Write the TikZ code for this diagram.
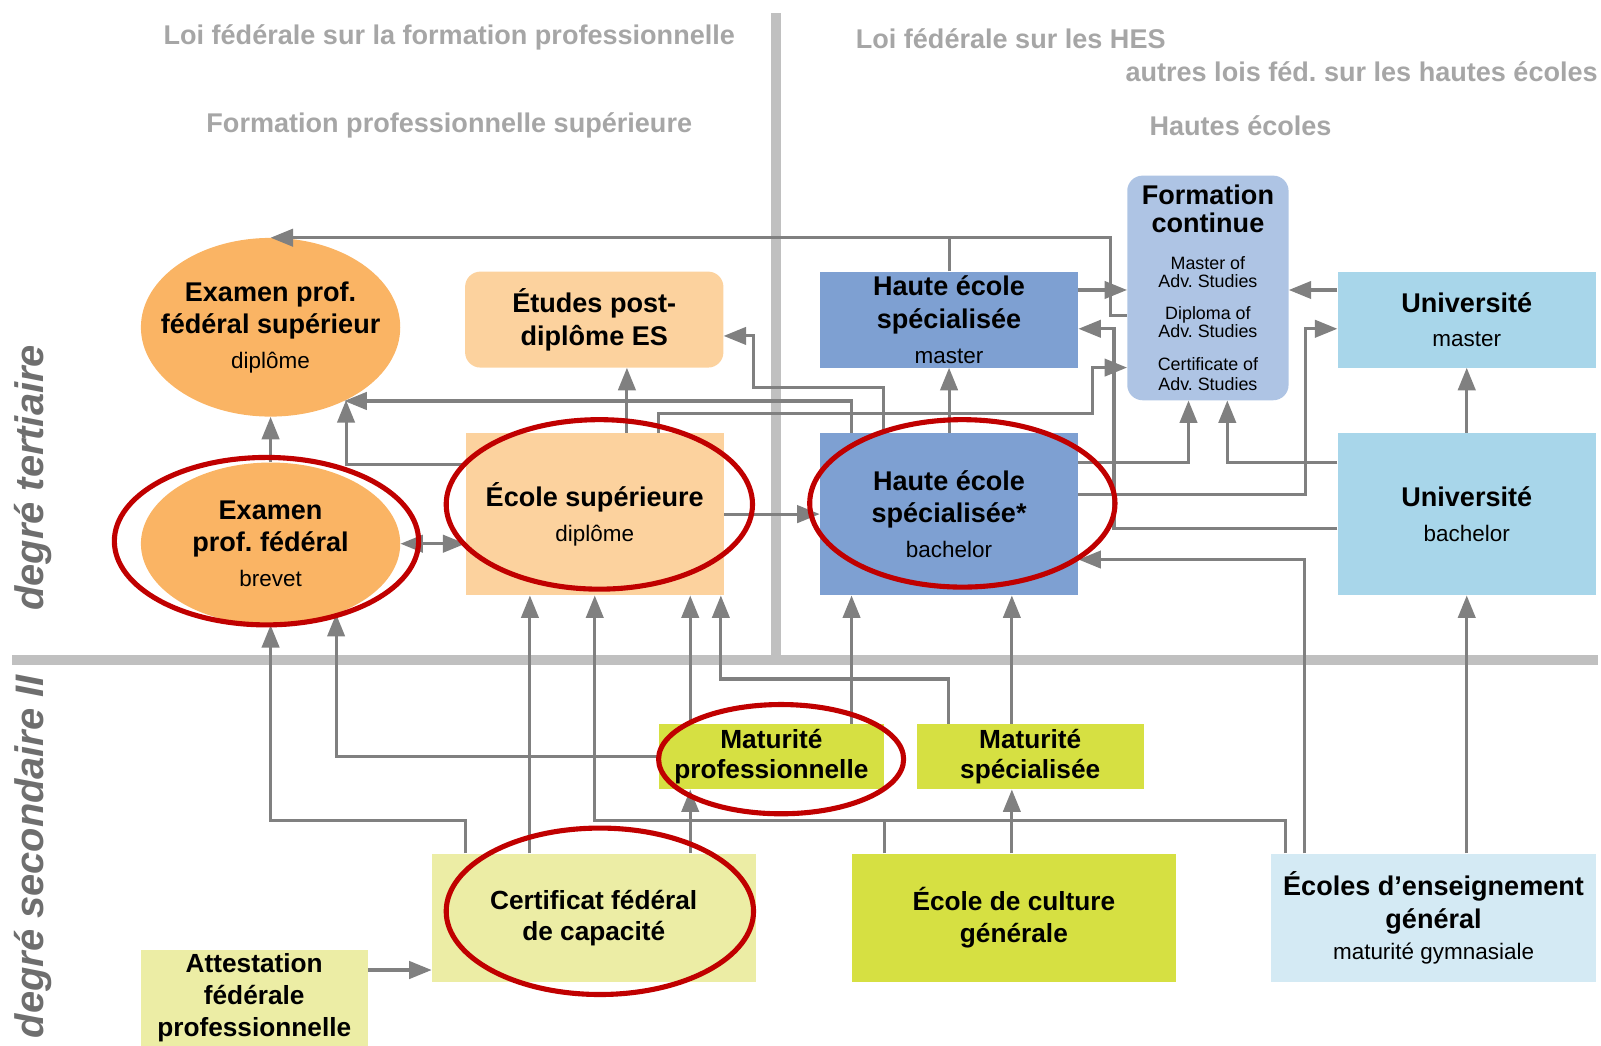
\documentclass[tikz,border=0pt]{standalone}
\usepackage{fontspec}
\setmainfont{Liberation Sans}
\usetikzlibrary{arrows.meta,shapes.geometric}
\frenchspacing

\definecolor{orangeA}{RGB}{250,180,100}
\definecolor{orangeB}{RGB}{252,210,158}
\definecolor{blueA}{RGB}{126,160,210}
\definecolor{blueB}{RGB}{174,196,228}
\definecolor{blueC}{RGB}{168,214,234}
\definecolor{blueD}{RGB}{212,234,244}
\definecolor{greenA}{RGB}{214,224,66}
\definecolor{yellowA}{RGB}{236,237,165}
\definecolor{ringred}{RGB}{192,0,0}
\definecolor{linegray}{RGB}{128,128,128}
\definecolor{bargray}{RGB}{192,192,192}
\definecolor{headgray}{RGB}{166,166,166}
\definecolor{sidegray}{RGB}{110,110,110}

\newcommand{\txttitle}{\fontsize{26.5}{32}\selectfont\bfseries}
\newcommand{\txtsub}{\fontsize{22}{26}\selectfont\mdseries}
\newcommand{\txtsec}{\fontsize{25.7}{31}\selectfont\bfseries}
\newcommand{\txtadv}{\fontsize{17.5}{19}\selectfont\mdseries}

\begin{document}
\begin{tikzpicture}[x=1pt, y=-1pt,
  box/.style={inner sep=0pt, align=center, font=\txttitle, minimum width=253, minimum height=94},
  tall/.style={box, minimum height=159},
  secbox/.style={inner sep=0pt, align=center, font=\txtsec},
  oval/.style={ellipse, inner sep=0pt, minimum width=254, fill=orangeA},
  ovaltext/.style={inner sep=0pt, align=center, font=\txttitle},
  head/.style={inner sep=0pt, text=headgray, font=\txttitle},
  side/.style={inner sep=0pt, text=sidegray, rotate=90, font=\fontsize{39}{47}\selectfont\bfseries\itshape},
  bar/.style={draw=bargray, line width=10pt},
  conn/.style={draw=linegray, line width=3pt},
  arr/.style={conn, -{Triangle[length=22pt,width=17pt]}},
  arrboth/.style={conn, {Triangle[length=22pt,width=17pt]}-{Triangle[length=22pt,width=17pt]}},
  ring/.style={draw=ringred, line width=5pt}]
  \useasboundingbox (0,0) rectangle (1568,1023.5);
  \clip (0,0) rectangle (1568,1023.5);

  \draw[bar] (760,13) -- (760,641);
  \draw[bar] (12,646) -- (1565,646);

  \node[head] (lfp) at (440,37) {Loi fédérale sur la formation professionnelle};
  \node[head] (fps) at (440,123) {Formation professionnelle supérieure};
  \node[head, anchor=west] (lhes) at (838,38) {Loi fédérale sur les HES};
  \node[head, anchor=east] (alhe) at (1565,70) {autres lois féd. sur les hautes écoles};
  \node[head] (hec) at (1215,123) {Hautes écoles};
  \node[side] (tert) at (32,468) {degré tertiaire};
  \node[side] (secII) at (32,839) {degré secondaire II};

  % degré tertiaire
  \node[oval, minimum height=175] (exsup) at (265,320.5) {};
  \node[ovaltext] (exsuptxt) at (exsup) {Examen prof.\\ fédéral supérieur\\[2pt] \txtsub diplôme};
  \node[box, fill=orangeB, rounded corners=15] (etpd) at (582,313) {Études post-\\ diplôme ES};
  \node[oval, minimum height=159] (exbr) at (265,532.5) {};
  \node[ovaltext] (exbrtxt) at (exbr) {Examen\\ prof. fédéral\\[2pt] \txtsub brevet};
  \node[tall, fill=orangeB] (esup) at (582.5,503.5) {École supérieure\\[2pt] \txtsub diplôme};
  \node[box, fill=blueA] (hesm) at (929.5,313) {Haute école\\ spécialisée\\[2pt] \txtsub master};
  \node[tall, fill=blueA] (hesb) at (929.5,503.5) {Haute école\\ spécialisée*\\[2pt] \txtsub bachelor};
  \node[box, fill=blueB, rounded corners=15, minimum width=158, minimum height=220] (fc) at (1183,282)
    {Formation\\[-5pt] continue\\[4pt] \txtadv Master of\\[-14pt] \txtadv Adv. Studies\\[-1pt]
     \txtadv Diploma of\\[-14pt] \txtadv Adv. Studies\\ \txtadv Certificate of\\[-12pt] \txtadv Adv. Studies};
  \node[box, fill=blueC] (unim) at (1436.5,313) {Université\\[2pt] \txtsub master};
  \node[tall, fill=blueC] (unib) at (1436.5,503.5) {Université\\[2pt] \txtsub bachelor};

  % degré secondaire II
  \node[secbox, fill=greenA, minimum width=221, minimum height=64] (mp) at (755.5,741) {Maturité\\[-1pt] professionnelle};
  \node[secbox, fill=greenA, minimum width=222, minimum height=64] (ms) at (1009,741) {Maturité\\[-1pt] spécialisée};
  \node[secbox, fill=yellowA, minimum width=317, minimum height=126] (cfc) at (581.5,899) {Certificat fédéral\\ de capacité};
  \node[secbox, fill=greenA, minimum width=318, minimum height=126] (ecg) at (993,899) {École de culture\\ générale};
  \node[box, fill=blueD, minimum width=318, minimum height=126] (eeg) at (1404,899) {Écoles d’enseignement\\ général\\[-1pt] \txtsub maturité gymnasiale};
  \node[fill=yellowA, inner sep=0pt, minimum width=222, minimum height=130] (att) at (249,995) {};
  \node[secbox] (atttxt) at (249,977) {Attestation\\ fédérale\\ professionnelle};

  \draw[arr] (exbr) -- (exsup);
  \draw[arrboth] (exbr.east) -- (exbr.east -| esup.west);
  \draw[arr] (esup.west |- 0,455) -| (exsup.-44);
  \draw[arr] (esup.north -| 614,0) -- (etpd.south -| 614,0);
  \draw[arr] (esup.north -| 645,0) |- (1070,405) |- (fc.west |- 0,360);
  \draw[arr] (esup) -- (hesb);
  \draw[arr] (hesb.north -| 834,0) |- (exsup.-45);
  \draw[arr] (hesb.north -| 865,0) |- (738,379.5) |- (etpd.east |- 0,329);
  \draw[arr] (hesb) -- (hesm);
  \draw[arr] (hesm.north) |- (exsup.north);
  \draw[conn] (fc.west |- 0,309) -| (1088,0 |- exsup.north) -- (hesm.north |- exsup.north);
  \draw[arr] (hesm.east |- 0,284) -- (fc.west |- 0,284);
  \draw[arr] (unim.west |- 0,284) -- (fc.east |- 0,284);
  \draw[arr] (hesb.east |- 0,453) -| (fc.south -| 1164,0);
  \draw[arr] (unib.west |- 0,453) -| (fc.south -| 1202,0);
  \draw[arr] (hesb.east |- 0,484) -| (1279,322) -- (unim.west |- 0,322);
  \draw[arr] (unib.west |- 0,518) -| (1091,322) -- (hesm.east |- 0,322);
  \draw[arr] (eeg.north -| 1278,0) |- (hesb.east |- 0,548);
  \draw[arr] (unib) -- (unim);
  \draw[arr] (eeg.north -| unib.south) -- (unib.south);

  \draw[arr] (cfc.north -| 456,0) |- (exbr.south |- 0,804) -- (exbr.south);
  \draw[arr] (mp.west) -| (exbr.-47);
  \draw[arr] (cfc.north -| 519,0) -- (esup.south -| 519,0);
  \draw[arr] (cfc.north -| 676,0) -- (mp.south -| 676,0);
  \draw[arr] (mp.north -| 676,0) -- (esup.south -| 676,0);
  \draw[arr] (ms.north -| 929,0) |- (706,665) -- (esup.south -| 706,0);
  \draw[arr] (mp.north -| 834,0) -- (hesb.south -| 834,0);
  \draw[arr] (ms.north -| 991,0) -- (hesb.south -| 991,0);
  \draw[arr] (ecg.north -| 991,0) -- (ms.south -| 991,0);
  \draw[arr] (ecg.north -| 866,0) |- (esup.south |- 0,804) -- (esup.south);
  \draw[conn] (eeg.north -| 1259,0) |- (866,804);
  \draw[arr] (att.east |- 0,950) -- (cfc.west |- 0,950);

  \draw[ring] (261,530) ellipse [x radius=149, y radius=82];
  \draw[ring] (587,494) ellipse [x radius=150, y radius=83];
  \draw[ring] (942.5,493) ellipse [x radius=149.5, y radius=82];
  \draw[ring] (765,743.5) ellipse [x radius=120, y radius=53.5];
  \draw[ring] (587.5,892.5) ellipse [x radius=150.5, y radius=81.5];
\end{tikzpicture}
\end{document}
